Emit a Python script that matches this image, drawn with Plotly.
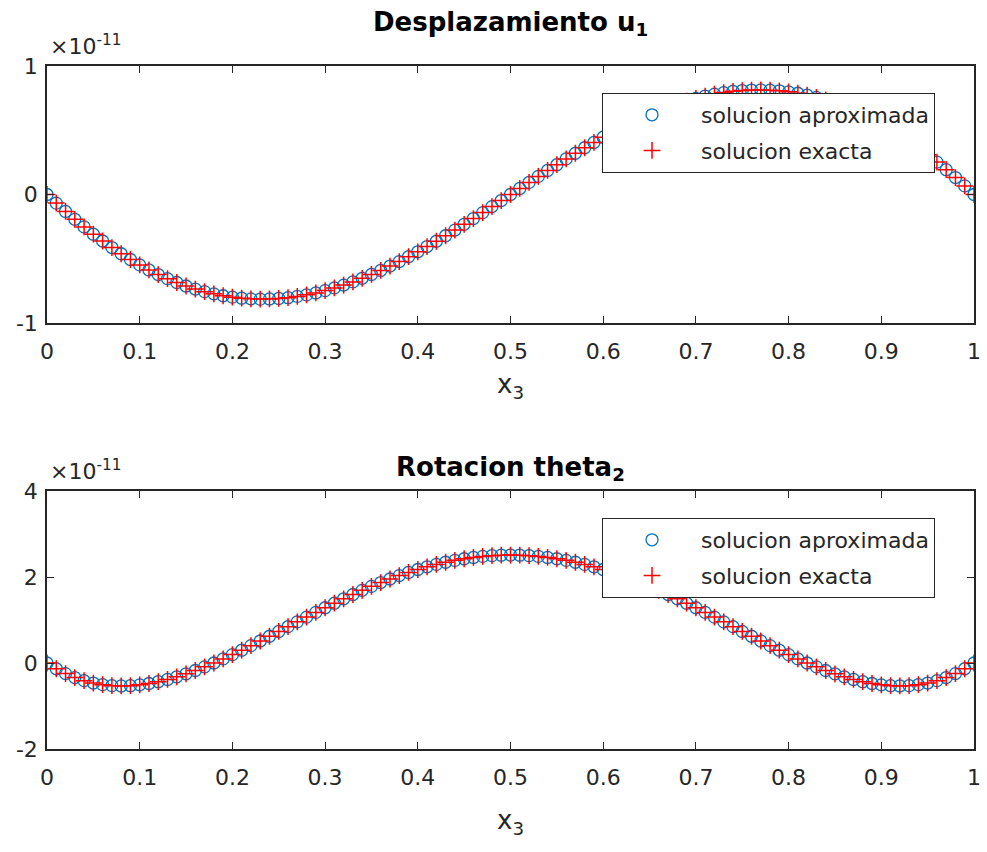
import plotly.graph_objects as go

# Nodal coordinate along the beam
x3 = [i / 100 for i in range(101)]

# Displacement u1 (units of 1e-11), first half; second half is antisymmetric
u1_half = [0.000, -0.067, -0.132, -0.193, -0.252, -0.309, -0.362, -0.413, -0.461, -0.506,
           -0.548, -0.587, -0.623, -0.655, -0.685, -0.712, -0.736, -0.756, -0.773, -0.788,
           -0.799, -0.807, -0.812, -0.814, -0.813, -0.809, -0.803, -0.793, -0.781, -0.766,
           -0.748, -0.727, -0.705, -0.680, -0.652, -0.622, -0.591, -0.557, -0.522, -0.484,
           -0.446, -0.405, -0.364, -0.321, -0.277, -0.232, -0.187, -0.141, -0.094, -0.047,
           0.000]
u1_exacta = u1_half + [-v for v in reversed(u1_half[:-1])]
u1_aprox = u1_exacta

# Rotation theta2 (units of 1e-11), first half; second half is symmetric
theta2_half = [0.000, -0.134, -0.246, -0.338, -0.411, -0.466, -0.504, -0.527, -0.534, -0.528,
               -0.508, -0.477, -0.435, -0.383, -0.321, -0.251, -0.174, -0.090, 0.000, 0.095,
               0.195, 0.298, 0.404, 0.512, 0.622, 0.734, 0.845, 0.957, 1.067, 1.177,
               1.285, 1.391, 1.493, 1.593, 1.690, 1.782, 1.871, 1.954, 2.033, 2.106,
               2.174, 2.237, 2.293, 2.343, 2.387, 2.424, 2.455, 2.479, 2.496, 2.507,
               2.510]
theta2_exacta = theta2_half + list(reversed(theta2_half[:-1]))
theta2_aprox = theta2_exacta

x_ticks = [0, 0.1, 0.2, 0.3, 0.4, 0.5, 0.6, 0.7, 0.8, 0.9, 1]
u1_ticks = [-1, 0, 1]
theta2_ticks = [-2, 0, 2, 4]

W, H = 987, 852
AX = "#262626"
FONT = "DejaVu Sans, Liberation Sans, Arial, sans-serif"
BLUE = "#0072BD"
RED = "#FF0000"

fig = go.Figure()


def add_pair(xv, yapprox, yexact, xa, ya, legend):
    fig.add_trace(go.Scatter(
        x=xv, y=yapprox, mode="markers", name="solucion aproximada",
        xaxis=xa, yaxis=ya, legend=legend, legendgroup=legend + "a",
        marker=dict(symbol="circle-open", size=12, color=BLUE, line=dict(width=1.3, color=BLUE)),
    ))
    fig.add_trace(go.Scatter(
        x=xv, y=yexact, mode="markers", name="solucion exacta",
        xaxis=xa, yaxis=ya, legend=legend, legendgroup=legend + "b",
        marker=dict(symbol="cross-thin-open", size=12, color=RED, line=dict(width=1.5, color=RED)),
    ))


add_pair(x3, u1_aprox, u1_exacta, "x", "y", "legend")
add_pair(x3, theta2_aprox, theta2_exacta, "x2", "y2", "legend2")

xdom = [47 / W, 974 / W]
top_dom = [1 - 323 / H, 1 - 66 / H]
bot_dom = [1 - 749 / H, 1 - 491 / H]

axis_common = dict(
    showline=True, linecolor=AX, linewidth=1.5, mirror="ticks",
    ticks="inside", ticklen=7, tickwidth=1, tickcolor=AX,
    showgrid=False, zeroline=False, automargin=False,
    tickfont=dict(family=FONT, size=22, color=AX),
)


def x_axis(anchor, standoff):
    return dict(
        axis_common, domain=xdom, anchor=anchor, range=[0, 1], tickvals=x_ticks,
        ticktext=[f"{t:g}" for t in x_ticks], ticklabelstandoff=8,
        title=dict(text="x<sub>3</sub>", font=dict(family=FONT, size=26, color=AX),
                   standoff=standoff),
    )


legend_common = dict(
    xanchor="left", yanchor="top", bgcolor="white", bordercolor=AX, borderwidth=1,
    font=dict(family=FONT, size=22, color=AX), itemwidth=88,
    traceorder="grouped", tracegroupgap=4,
)

fig.update_layout(
    width=W, height=H,
    margin=dict(l=0, r=0, t=0, b=0, autoexpand=False),
    paper_bgcolor="white", plot_bgcolor="white",
    font=dict(family=FONT, color=AX),
    xaxis=x_axis("y", 12),
    yaxis=dict(axis_common, domain=top_dom, anchor="x", range=[-1, 1],
               tickvals=u1_ticks, ticktext=[str(t) for t in u1_ticks], ticklabelstandoff=3),
    xaxis2=x_axis("y2", 22),
    yaxis2=dict(axis_common, domain=bot_dom, anchor="x2", range=[-2, 4],
                tickvals=theta2_ticks, ticktext=[str(t) for t in theta2_ticks], ticklabelstandoff=3),
    legend=dict(legend_common, x=602 / W, y=1 - 93 / H),
    legend2=dict(legend_common, x=602 / W, y=1 - 518 / H),
    showlegend=True,
)

# Subplot titles and exponent labels
fig.add_annotation(text="<b>Desplazamiento u<sub>1</sub></b>", x=(xdom[0] + xdom[1]) / 2,
                   y=1 - 24 / H, xref="paper", yref="paper", yanchor="middle", showarrow=False,
                   font=dict(family=FONT, size=26, color="black"))
fig.add_annotation(text="<b>Rotacion theta<sub>2</sub></b>", x=(xdom[0] + xdom[1]) / 2,
                   y=1 - 468 / H, xref="paper", yref="paper", yanchor="middle", showarrow=False,
                   font=dict(family=FONT, size=26, color="black"))
for ytop in (66, 491):
    fig.add_annotation(text="\u00d710<sup>-11</sup>", x=48 / W, y=1 - (ytop - 5) / H,
                       xref="paper", yref="paper", xanchor="left", yanchor="bottom",
                       showarrow=False, font=dict(family=FONT, size=22, color=AX))

fig.write_html("out.html")
